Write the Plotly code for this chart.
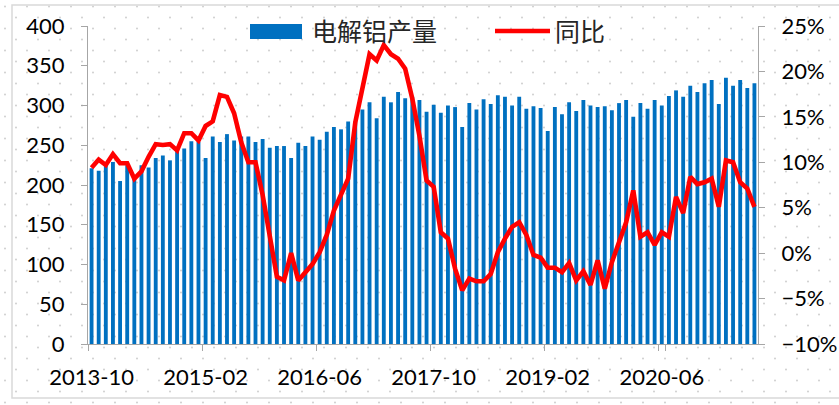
import base64
import pandas as pd
import plotly.graph_objects as go

# ---------------- data ----------------
months = list(pd.period_range("2013-10", periods=94, freq="M").strftime("%Y-%m"))

production = [
    221, 218, 224, 229, 205, 225, 208, 225, 222, 234,
    237, 231, 244, 246, 255, 254, 234, 261, 254, 264,
    256, 261, 261, 254, 258, 247, 249, 249, 234, 253,
    249, 261, 257, 267, 273, 270, 280, 280, 295, 304,
    284, 311, 304, 317, 309, 311, 307, 292, 301, 291,
    300, 298, 273, 303, 295, 308, 302, 313, 311, 300,
    311, 296, 299, 297, 268, 298, 289, 304, 293, 307,
    300, 298, 299, 294, 303, 307, 286, 303, 296, 307,
    300, 312, 319, 311, 325, 317, 328, 332, 302, 335,
    325, 332, 322, 328,
]

yoy = [
    9.4, 10.3, 9.7, 10.9, 9.9, 9.9, 8.2, 9.0, 10.6, 12.0,
    11.9, 12.0, 11.3, 13.2, 13.2, 12.4, 14.0, 14.5, 17.4, 17.2,
    15.4, 12.2, 10.0, 10.0, 6.4, 2.0, -2.6, -3.0, 0.0, -3.0,
    -2.1, -1.2, 0.1, 2.0, 4.7, 6.4, 8.2, 14.4, 18.4, 21.9,
    21.2, 22.9, 21.9, 21.4, 20.3, 17.0, 12.9, 8.0, 7.3, 2.3,
    1.6, -1.7, -4.1, -2.8, -3.1, -3.1, -2.3, 0.1, 1.6, 2.9,
    3.4, 2.0, -0.2, -0.5, -1.6, -1.6, -2.1, -1.1, -3.0, -2.0,
    -3.5, -0.8, -3.9, -1.0, 1.2, 3.4, 6.9, 1.8, 2.3, 0.9,
    2.3, 1.8, 6.2, 4.4, 8.4, 7.6, 7.8, 8.2, 5.1, 10.2,
    10.0, 7.8, 7.1, 5.1,
]

tick_labels = months[0::16]
series_names = ["电解铝产量", "同比"]

# ---------------- layout helpers ----------------
W, H = 839, 405
L, R, T, B = 88, 758, 26, 344
PW, PH = R - L, B - T


def px(x):
    return (x - L) / PW


def py(y):
    return (B - y) / PH


BAR_COLOR = "#0070C0"
LINE_COLOR = "#FF0000"
AXIS_COLOR = "#A6A6A6"
FONT = "Lato, 'Noto Sans', sans-serif"
CJK = "'Noto Sans CJK SC', sans-serif"

fig = go.Figure()
fig.add_trace(go.Bar(
    x=months, y=production, name=series_names[0],
    marker=dict(color=BAR_COLOR, line=dict(width=0)),
    showlegend=False, yaxis="y",
))
fig.add_trace(go.Scatter(
    x=months, y=yoy, name=series_names[1], mode="lines",
    line=dict(color=LINE_COLOR, width=4.6),
    showlegend=False, yaxis="y2",
))

# dotted background pattern
svg = (
    f"<svg xmlns='http://www.w3.org/2000/svg' width='{W}' height='{H}'>"
    "<defs><pattern id='p' width='22' height='22' patternUnits='userSpaceOnUse'>"
    "<circle cx='5' cy='6.5' r='1' fill='#cfcfcf'/>"
    "<circle cx='16' cy='17.5' r='1' fill='#cfcfcf'/>"
    "</pattern></defs>"
    f"<rect width='{W}' height='{H}' fill='white'/>"
    f"<rect width='{W}' height='{H}' fill='url(#p)'/>"
    "</svg>"
)
src = "data:image/svg+xml;base64," + base64.b64encode(svg.encode()).decode()

shapes = [
    dict(type="rect", xref="paper", yref="paper",
         x0=px(12), x1=px(845), y0=py(398), y1=py(5),
         line=dict(color="#D9D9D9", width=1.5), layer="below"),
    # legend symbols
    dict(type="rect", xref="paper", yref="paper",
         x0=px(250), x1=px(302), y0=py(39), y1=py(24),
         fillcolor=BAR_COLOR, line=dict(width=0)),
    dict(type="line", xref="paper", yref="paper",
         x0=px(495), x1=px(550), y0=py(31), y1=py(31),
         line=dict(color=LINE_COLOR, width=4.6)),
]

annotations = [
    dict(text=series_names[0], xref="paper", yref="paper",
         x=px(310), y=py(30), xanchor="left", yanchor="middle",
         showarrow=False, font=dict(family=CJK, size=25, color="#262626")),
    dict(text=series_names[1], xref="paper", yref="paper",
         x=px(553), y=py(30), xanchor="left", yanchor="middle",
         showarrow=False, font=dict(family=CJK, size=25, color="#262626")),
]

axis_common = dict(
    showgrid=False, zeroline=False, showline=True, linecolor=AXIS_COLOR,
    linewidth=1, ticks="outside", ticklen=6, tickcolor=AXIS_COLOR,
    tickfont=dict(family=FONT, size=22, color="#000000"),
    automargin=False,
)

fig.update_layout(
    width=W, height=H,
    margin=dict(l=L, r=W - R, t=T, b=H - B, pad=0),
    paper_bgcolor="white",
    plot_bgcolor="rgba(0,0,0,0)",
    bargap=0.46,
    showlegend=False,
    images=[dict(source=src, xref="paper", yref="paper",
                 x=px(0), y=py(0), sizex=W / PW, sizey=H / PH,
                 xanchor="left", yanchor="top", sizing="stretch",
                 layer="below")],
    shapes=shapes,
    annotations=annotations,
    xaxis=dict(type="category", tickmode="array", tickvals=tick_labels,
               ticktext=tick_labels, tickson="boundaries", tickangle=0,
               range=[-0.5, len(months) - 0.5], ticklabelstandoff=14,
               **axis_common),
    yaxis=dict(range=[0, 400], dtick=50, tick0=0, ticklabelstandoff=12,
               **axis_common),
    yaxis2=dict(range=[-10, 25], dtick=5, tick0=0, ticksuffix="%",
                overlaying="y", side="right", ticklabelstandoff=12,
                **axis_common),
)

fig.write_html(
    "out.html",
    config={"displayModeBar": False},
    post_script="document.body.style.margin='0';document.body.style.padding='0';",
)
